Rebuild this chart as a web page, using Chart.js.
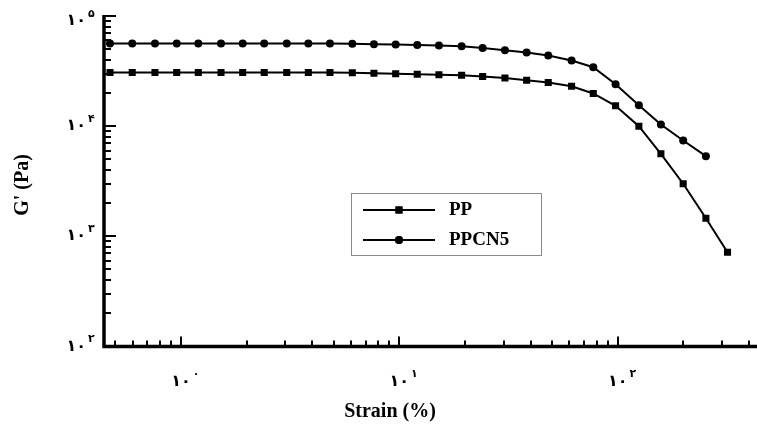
<!DOCTYPE html>
<html>
<head>
<meta charset="utf-8">
<script src="https://cdn.jsdelivr.net/npm/chart.js@4.4.1/dist/chart.umd.min.js"></script>
<style>
  body { margin: 0; background: #fff; }
  #wrap { width: 757px; height: 425px; position: relative; }
</style>
</head>
<body>
<div id="wrap"><canvas id="modulusChart"></canvas></div>
<script>
// strain sweep (%), shared by both samples
const strain = [0.473, 0.598, 0.76, 0.956, 1.2, 1.525, 1.917, 2.405, 3.05, 3.83, 4.81,
                6.09, 7.65, 9.62, 12.08, 15.18, 19.28, 24.07, 30.45, 38.28, 48.08,
                61.5, 77.3, 97.8, 125, 157.7, 199.5, 253.5, 318.4];

// storage modulus G' (Pa)
const ppModulus = [30700, 30700, 30700, 30700, 30700, 30700, 30700, 30700, 30700, 30700, 30700,
                   30550, 30230, 29920, 29610, 29300, 29000, 28200, 27400, 26100, 24900,
                   23000, 19800, 15300, 10000, 5610, 3000, 1460, 716];
const ppcn5Modulus = [56200, 56200, 56200, 56200, 56200, 56200, 56200, 56200, 56200, 56200, 56200,
                      56000, 55400, 55040, 54600, 53900, 53100, 51300, 48900, 46600, 43800,
                      39400, 34300, 24000, 15500, 10350, 7410, 5340];

const seriesNames = ['PP', 'PPCN5'];
const xTickPowers = [0, 1, 2];
const yTickPowers = [2, 3, 4, 5];
const persianDigits = '۰۱۲۳۴۵۶۷۸۹';

const toPoints = (xs, ys) => ys.map((y, i) => ({ x: xs[i], y: y }));

// draws "10" with a raised exponent, base centred on (cx, cy)
function drawPower(ctx, cx, cy, power, alignRight) {
  const base = persianDigits[1] + persianDigits[0];
  ctx.font = 'bold 16px "DejaVu Sans"';
  const w = ctx.measureText(base).width;
  const left = alignRight ? cx - w : cx - w / 2;
  ctx.textAlign = 'left';
  ctx.textBaseline = 'middle';
  ctx.fillText(base, left, cy);
  ctx.font = 'bold 11px "DejaVu Sans"';
  ctx.fillText(persianDigits[power], left + w + 2, cy - 7);
}

const axesPlugin = {
  id: 'axesPlugin',
  afterDraw(chart) {
    const ctx = chart.ctx;
    const xs = chart.scales.x, ys = chart.scales.y;
    const area = chart.chartArea;
    ctx.save();
    ctx.strokeStyle = '#000';
    ctx.fillStyle = '#000';

    // inward log ticks
    ctx.lineWidth = 2;
    ctx.beginPath();
    for (let d = Math.floor(Math.log10(xs.min)); d <= Math.ceil(Math.log10(xs.max)); d++) {
      for (let k = 1; k <= 9; k++) {
        const v = k * Math.pow(10, d);
        if (v < xs.min || v > xs.max) continue;
        const px = Math.round(xs.getPixelForValue(v));
        ctx.moveTo(px, area.bottom);
        ctx.lineTo(px, area.bottom - (k === 1 ? 10 : 6));
      }
    }
    for (let d = Math.floor(Math.log10(ys.min)); d <= Math.ceil(Math.log10(ys.max)); d++) {
      for (let k = 1; k <= 9; k++) {
        const v = k * Math.pow(10, d);
        if (v < ys.min || v > ys.max) continue;
        const py = Math.round(ys.getPixelForValue(v));
        ctx.moveTo(area.left, py);
        ctx.lineTo(area.left + (k === 1 ? 12 : 7), py);
      }
    }
    ctx.stroke();

    // axis lines
    ctx.lineWidth = 3.5;
    ctx.beginPath();
    ctx.moveTo(area.left, area.top - 1);
    ctx.lineTo(area.left, area.bottom);
    ctx.lineTo(area.right, area.bottom);
    ctx.stroke();

    // tick labels
    xTickPowers.forEach(p => {
      drawPower(ctx, xs.getPixelForValue(Math.pow(10, p)), area.bottom + 35, p, false);
    });
    yTickPowers.forEach(p => {
      const py = Math.max(ys.getPixelForValue(Math.pow(10, p)), 21);
      drawPower(ctx, area.left - 18, py, p, true);
    });

    // axis titles
    ctx.font = 'bold 20px "Liberation Serif"';
    ctx.textAlign = 'center';
    ctx.textBaseline = 'middle';
    ctx.fillText('Strain (%)', 390, 412);
    ctx.save();
    ctx.translate(23, 185);
    ctx.rotate(-Math.PI / 2);
    ctx.fillText("G' (Pa)", 0, 0);
    ctx.restore();

    // legend box
    ctx.lineWidth = 1;
    ctx.strokeStyle = '#8a8a8a';
    ctx.strokeRect(351.5, 193.5, 190, 62);
    const rows = [210, 240];
    chart.data.datasets.forEach((ds, i) => {
      const y = rows[i];
      ctx.strokeStyle = '#000';
      ctx.lineWidth = 2;
      ctx.beginPath();
      ctx.moveTo(363, y);
      ctx.lineTo(435, y);
      ctx.stroke();
      Chart.helpers.drawPoint(ctx, {
        pointStyle: ds.pointStyle,
        radius: ds.pointRadius,
        borderWidth: 0
      }, 399, y);
      ctx.fill();
      ctx.font = 'bold 19px "Liberation Serif"';
      ctx.textAlign = 'left';
      ctx.textBaseline = 'middle';
      ctx.fillText(ds.label, 449, y);
    });
    ctx.restore();
  }
};

new Chart(document.getElementById('modulusChart'), {
  type: 'line',
  data: {
    datasets: [{
      label: seriesNames[0],
      data: toPoints(strain, ppModulus),
      borderColor: '#000',
      backgroundColor: '#000',
      borderWidth: 2,
      pointStyle: 'rect',
      pointRadius: 5,
      pointBackgroundColor: '#000',
      pointBorderWidth: 0,
      tension: 0
    }, {
      label: seriesNames[1],
      data: toPoints(strain, ppcn5Modulus),
      borderColor: '#000',
      backgroundColor: '#000',
      borderWidth: 2,
      pointStyle: 'circle',
      pointRadius: 4,
      pointBackgroundColor: '#000',
      pointBorderWidth: 0,
      tension: 0
    }]
  },
  options: {
    responsive: true,
    maintainAspectRatio: false,
    animation: false,
    layout: { autoPadding: false, padding: { left: 104, right: 0, top: 16, bottom: 78.5 } },
    plugins: { legend: { display: false }, tooltip: { enabled: false } },
    scales: {
      x: { type: 'logarithmic', min: 0.444, max: 434.5, display: false },
      y: { type: 'logarithmic', min: 100, max: 100000, display: false }
    }
  },
  plugins: [axesPlugin]
});
</script>
</body>
</html>
